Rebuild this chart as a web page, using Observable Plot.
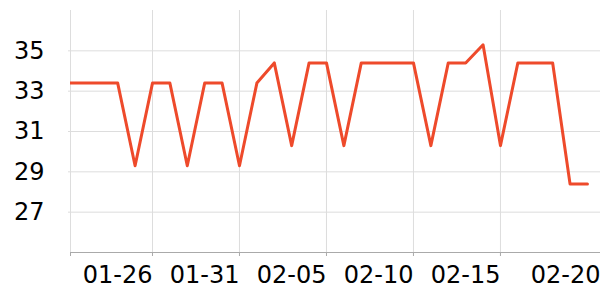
<!DOCTYPE html>
<html>
<head>
<meta charset="utf-8">
<script src="https://cdn.jsdelivr.net/npm/d3@7"></script>
<script src="https://cdn.jsdelivr.net/npm/@observablehq/plot@0.6"></script>
<style>
  body { margin: 0; background: #fff; }
  #chart svg { display: block; }
</style>
</head>
<body>
<div id="chart"></div>
<script>
const dates = [
  "2024-01-21","2024-01-22","2024-01-23","2024-01-24","2024-01-25","2024-01-26",
  "2024-01-27","2024-01-28","2024-01-29","2024-01-30","2024-01-31","2024-02-01",
  "2024-02-02","2024-02-03","2024-02-04","2024-02-05","2024-02-06","2024-02-07",
  "2024-02-08","2024-02-09","2024-02-10","2024-02-11","2024-02-12","2024-02-13",
  "2024-02-14","2024-02-15","2024-02-16","2024-02-17","2024-02-18","2024-02-19",
  "2024-02-20"
];
const values = [
  33.4, 33.4, 33.4, 33.4, 29.3, 33.4,
  33.4, 29.3, 33.4, 33.4, 29.3, 33.4,
  34.4, 30.3, 34.4, 34.4, 30.3, 34.4,
  34.4, 34.4, 34.4, 30.3, 34.4, 34.4,
  35.3, 30.3, 34.4, 34.4, 34.4, 28.4,
  28.4
];
const xTickDates = ["2024-01-26","2024-01-31","2024-02-05","2024-02-10","2024-02-15","2024-02-20"];
const xTickLabels = ["01-26","01-31","02-05","02-10","02-15","02-20"];
const yTicks = [27, 29, 31, 33, 35];
const yDomain = [25, 37];
const xDomain = ["2024-01-21T06:54:00Z", "2024-02-20T18:00:00Z"];

const data = dates.map((d, i) => ({date: new Date(d + "T00:00:00Z"), value: values[i]}));
const xd = xDomain.map(d => new Date(d));
const tickD = xTickDates.map(d => new Date(d + "T00:00:00Z"));
const gridX = [xd[0], ...tickD.slice(0, 5)];
const labelMain = tickD.slice(0, 5).map((d, i) => ({date: d, label: xTickLabels[i]}));
const labelLast = [{date: tickD[5], label: xTickLabels[5]}];

const chart = Plot.plot({
  width: 600,
  height: 300,
  marginLeft: 70,
  marginRight: 0,
  marginTop: 10,
  marginBottom: 48,
  style: {fontFamily: "DejaVu Sans", fontSize: "24px", color: "#000", background: "#fff"},
  x: {type: "utc", domain: xd, label: null},
  y: {domain: yDomain, label: null},
  marks: [
    Plot.ruleY(yTicks, {stroke: "#dddddd", strokeWidth: 1}),
    Plot.ruleX(gridX, {stroke: "#dddddd", strokeWidth: 1}),
    Plot.axisY({ticks: yTicks, tickSize: 2, tickPadding: 24, stroke: "#dddddd", fill: "#000", fontSize: 24, tickFormat: d => String(d), label: null}),
    Plot.axisX({ticks: gridX, tickSize: 4, stroke: "#aaaaaa", tickFormat: () => "", label: null}),
    Plot.ruleY([yDomain[0]], {stroke: "#aaaaaa", strokeWidth: 1.2}),
    Plot.text(labelMain, {x: "date", text: "label", frameAnchor: "bottom", dy: 30, textAnchor: "end", lineAnchor: "bottom", fontSize: 24, fill: "#000"}),
    Plot.text(labelLast, {x: "date", text: "label", frameAnchor: "bottom", dy: 30, dx: 13, textAnchor: "end", lineAnchor: "bottom", fontSize: 24, fill: "#000"}),
    Plot.lineY(data, {x: "date", y: "value", stroke: "#ee4a2b", strokeWidth: 3, clip: true})
  ]
});
document.getElementById("chart").append(chart);
</script>
</body>
</html>
